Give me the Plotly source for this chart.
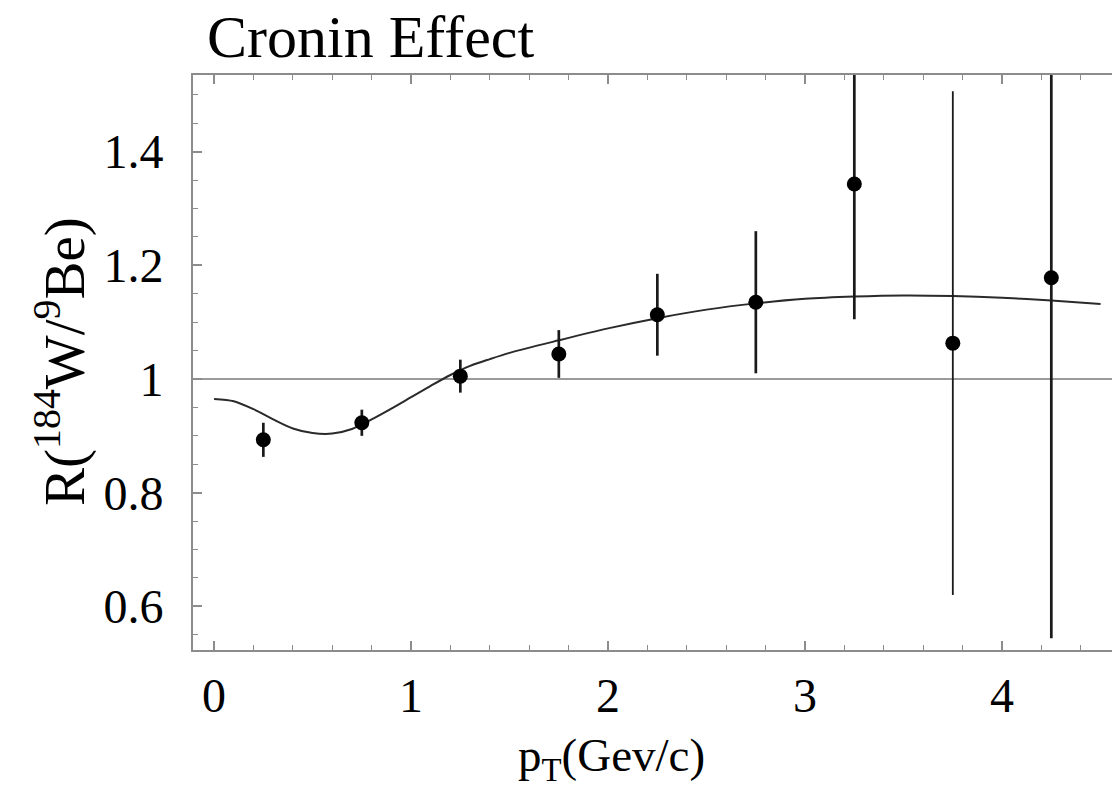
import plotly.graph_objects as go

# Measured nuclear modification ratio R(W/Be) vs transverse momentum
pt_points = [0.25, 0.75, 1.25, 1.75, 2.25, 2.75, 3.25, 3.75, 4.25]
ratio = [0.893, 0.923, 1.005, 1.044, 1.113, 1.135, 1.343, 1.063, 1.178]
ratio_err = [0.030, 0.023, 0.029, 0.042, 0.072, 0.125, 0.238, 0.443, 0.634]

# Model curve
pt_curve = [0.0, 0.1, 0.2, 0.3, 0.4, 0.5, 0.6, 0.7, 0.8, 0.9, 1.0, 1.1, 1.2,
            1.3, 1.4, 1.5, 1.75, 2.0, 2.25, 2.5, 2.75, 3.0, 3.25, 3.5, 3.75,
            4.0, 4.25, 4.5]
ratio_curve = [0.965, 0.961, 0.947, 0.929, 0.913, 0.905, 0.904, 0.912, 0.929,
               0.948, 0.968, 0.988, 1.007, 1.023, 1.035, 1.046, 1.068, 1.089,
               1.107, 1.122, 1.133, 1.141, 1.145, 1.147, 1.146, 1.143, 1.138,
               1.132]

x_ticks = [0, 1, 2, 3, 4]
y_ticks = [0.6, 0.8, 1.0, 1.2, 1.4]
y_tick_text = ["0.6", "0.8", "1", "1.2", "1.4"]

SERIF = "Liberation Serif, Times New Roman, serif"
AXIS_GREY = "#8c8c8c"

fig = go.Figure()

# reference line at R = 1
fig.add_trace(go.Scatter(
    x=[-0.2, 5.0], y=[1.0, 1.0], mode="lines",
    line=dict(color="#9a9a9a", width=2), hoverinfo="skip", showlegend=False,
))

fig.add_trace(go.Scatter(
    x=pt_curve, y=ratio_curve, mode="lines",
    line=dict(color="#2a2a2a", width=2, shape="spline", smoothing=0.8),
    showlegend=False,
))

# data points; the 3.75 GeV/c bin is drawn with a thinner bar
thin_bins = {3.75}
for thin in (False, True):
    idx = [i for i, p in enumerate(pt_points) if (p in thin_bins) == thin]
    fig.add_trace(go.Scatter(
        x=[pt_points[i] for i in idx], y=[ratio[i] for i in idx],
        mode="markers", marker=dict(color="black", size=15),
        error_y=dict(type="data", array=[ratio_err[i] for i in idx],
                     visible=True, color="#1a1a1a",
                     thickness=1.8 if thin else 2.7, width=0),
        cliponaxis=True, showlegend=False,
    ))

W, H = 1112, 787
L, R, T, B = 193, 0, 75, 137
PW, PH = W - L - R, H - T - B

fig.update_layout(
    width=W, height=H,
    margin=dict(l=L, r=R, t=T, b=B, pad=0),
    paper_bgcolor="white", plot_bgcolor="white",
    font=dict(family=SERIF, color="black", size=48),
    title=dict(text="Cronin Effect", x=207 / W, xanchor="left",
               y=1 - 36 / H, yanchor="middle",
               font=dict(family=SERIF, size=60, color="black")),
    xaxis=dict(
        range=[-0.107, 4.558], tickvals=x_ticks, ticks="inside",
        ticklen=9, tickwidth=1.5, tickcolor=AXIS_GREY,
        showline=True, linecolor=AXIS_GREY, linewidth=2, mirror="allticks",
        showgrid=False, zeroline=False,
        tickfont=dict(family=SERIF, size=48, color="black"),
        ticklabelstandoff=2,
        minor=dict(dtick=0.2, tick0=0, ticks="inside", ticklen=5,
                   tickcolor=AXIS_GREY, tickwidth=1.2),
    ),
    yaxis=dict(
        range=[0.5233, 1.5347], tickvals=y_ticks, ticktext=y_tick_text,
        ticks="inside", ticklen=9, tickwidth=1.5, tickcolor=AXIS_GREY,
        showline=True, linecolor=AXIS_GREY, linewidth=2,
        showgrid=False, zeroline=False,
        tickfont=dict(family=SERIF, size=48, color="black"),
        ticklabelstandoff=18,
        minor=dict(dtick=0.05, tick0=0, ticks="inside", ticklen=5,
                   tickcolor=AXIS_GREY, tickwidth=1.2),
    ),
    annotations=[
        dict(text="R(<sup>184</sup>W/<sup>9</sup>Be)", textangle=-90,
             xref="paper", yref="paper",
             x=-(L - 60) / PW, y=(H - B - 362) / PH,
             xanchor="center", yanchor="middle", showarrow=False,
             font=dict(family=SERIF, size=57, color="black")),
        dict(text="p<sub>T</sub>(Gev/c)",
             xref="paper", yref="paper",
             x=(611 - L) / PW, y=-(758 - (H - B)) / PH,
             xanchor="center", yanchor="middle", showarrow=False,
             font=dict(family=SERIF, size=47, color="black")),
    ],
)

fig.write_html("out.html")
